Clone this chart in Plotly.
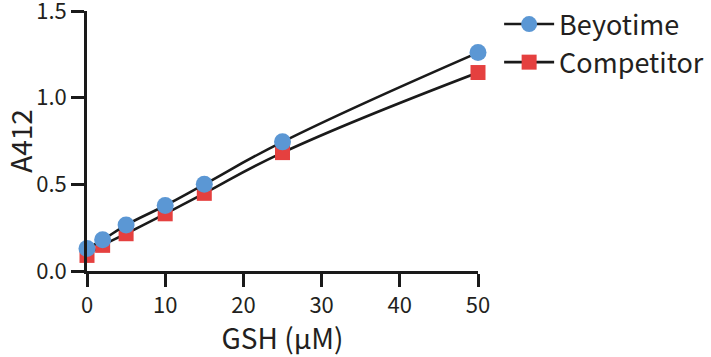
import plotly.graph_objects as go

gsh = [0, 2, 5, 10, 15, 25, 50]
beyotime = [0.13, 0.18, 0.265, 0.378, 0.50, 0.745, 1.26]
competitor = [0.09, 0.148, 0.215, 0.33, 0.448, 0.683, 1.145]

FONT = "Noto Sans CJK SC"
TXT = "#231f20"
fig = go.Figure()
fig.add_trace(go.Scatter(
    x=gsh, y=competitor, name="Competitor", mode="lines+markers",
    line=dict(color="#1a1a1a", width=2.6, shape="spline", smoothing=1.3),
    marker=dict(symbol="square", size=15, color="#e5403f"),
    cliponaxis=False, legendrank=2, legendgroup="c"))
fig.add_trace(go.Scatter(
    x=gsh, y=beyotime, name="Beyotime", mode="lines+markers",
    line=dict(color="#1a1a1a", width=2.6, shape="spline", smoothing=1.3),
    marker=dict(symbol="circle", size=17, color="#5b97d4"),
    cliponaxis=False, legendrank=1, legendgroup="b"))

axis_common = dict(showline=True, linecolor="#1a1a1a", linewidth=2.6,
                   ticks="outside", ticklen=13, tickwidth=2.6, tickcolor="#1a1a1a",
                   showgrid=False, zeroline=False, automargin=False,
                   ticklabeloverflow="allow",
                   tickfont=dict(family=FONT, size=22, color=TXT))
fig.update_xaxes(range=[0, 50], tickvals=[0, 10, 20, 30, 40, 50],
                 title=dict(text="GSH (μM)", font=dict(family=FONT, size=28, color=TXT), standoff=0),
                 **axis_common)
fig.update_yaxes(range=[0, 1.5], tickvals=[0, 0.5, 1.0, 1.5], ticktext=["0.0", "0.5", "1.0", "1.5"],
                 title=dict(text="A412", font=dict(family=FONT, size=28, color=TXT), standoff=4),
                 **axis_common)
fig.update_layout(
    width=711, height=357,
    margin=dict(l=87, r=233, t=11, b=86, autoexpand=False),
    paper_bgcolor="white", plot_bgcolor="white",
    showlegend=True,
    legend=dict(xref="container", yref="container", x=0.702, y=1.01,
                xanchor="left", yanchor="top", traceorder="grouped", tracegroupgap=0,
                font=dict(family=FONT, size=27, color=TXT),
                itemwidth=50, bgcolor="rgba(0,0,0,0)"),
)
fig.write_html("out.html", config={"displayModeBar": False},
               post_script="document.body.style.margin='0';document.body.style.overflow='hidden';")
